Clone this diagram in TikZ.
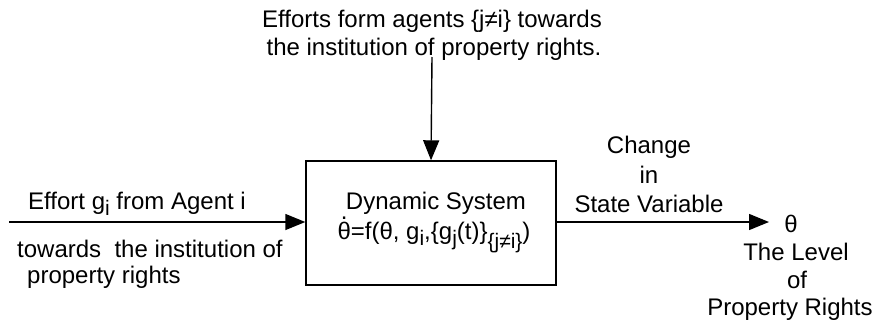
\documentclass[tikz,border=0pt]{standalone}
\usepackage{fontspec}
\setmainfont{Liberation Sans}
\usetikzlibrary{arrows.meta}
\newcommand{\lsub}[2][-6pt]{\raisebox{#1}{\fontsize{21}{21}\selectfont #2}}
\newcommand{\thetadot}{\ooalign{θ\cr\hidewidth\smash{\raisebox{20pt}{.}}\hidewidth\cr}}
\begin{document}
\begin{tikzpicture}[x=1pt,y=-1pt,
  lbl/.style={inner sep=0pt, anchor=base, font=\fontsize{24}{28}\selectfont},
  lblw/.style={lbl, anchor=base west},
  conn/.style={line width=1.4pt, -{Triangle[length=20pt,width=16pt]}},
  sysbox/.style={draw, line width=1.4pt, minimum width=250pt, minimum height=124pt, inner sep=0pt}]
\useasboundingbox (0,0) rectangle (888,330);
% box
\node[sysbox] (sys) at (431,223) {};
\node[lbl] (dyn) at (436,209) {Dynamic System};
\node[lbl] (eq) at (434,239) {\thetadot=f(θ, g\lsub{i},\{g\lsub{j}(t)\}\lsub[-9pt]{\{j≠i\}})};
% top
\node[lbl] (top1) at (432,27) {Efforts form agents \{j≠i\} towards};
\node[lbl] (top2) at (434,55) {the institution of property rights.};
\coordinate (topstart) at (432,57);
\draw[conn] (topstart) -- (sys.north);
% left
\node[lblw] (left1) at (28,209) {Effort g\lsub{i} from Agent i};
\node[lblw] (left2) at (17,257) {towards\ \ the institution of};
\node[lblw] (left3) at (27,283) {property rights};
\coordinate (leftstart) at (9,222);
\draw[conn] (leftstart) -- (sys.west |- leftstart);
% right
\node[lbl] (ch1) at (649,153) {Change};
\node[lbl] (ch2) at (649,183) {in};
\node[lbl] (ch3) at (649,212) {State Variable};
\coordinate (rightend) at (769,222);
\draw[conn] (sys.east |- rightend) -- (rightend);
\node[lbl] (theta) at (791,232) {θ};
\node[lbl] (lev1) at (796,260) {The Level};
\node[lbl] (lev2) at (797,288) {of};
\node[lbl] (lev3) at (790,315) {Property Rights};
\end{tikzpicture}
\end{document}
